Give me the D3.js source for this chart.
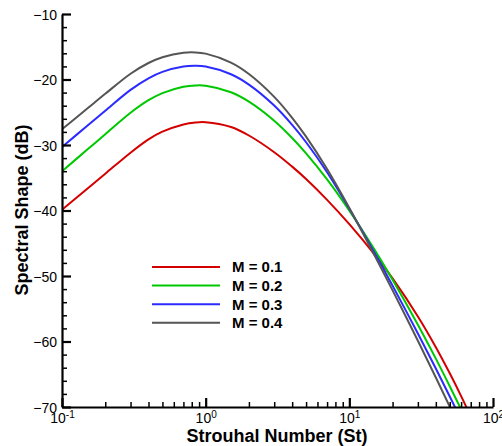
<!DOCTYPE html>
<html><head><meta charset="utf-8">
<script src="https://cdn.jsdelivr.net/npm/d3@7"></script>
<style>
html,body{margin:0;padding:0;background:#fff;}
svg{display:block;font-family:"Liberation Sans",Arial,sans-serif;}
</style>
</head><body>
<svg id="chart" width="502" height="446"></svg>
<script>
// ---- data ----
const strouhal = [0.1,0.15,0.2,0.3,0.4,0.5,0.7,0.85,1,1.5,2,3,4,5,7,10,15,20,30,40,50,60,70];
const seriesNames = ["M = 0.1","M = 0.2","M = 0.3","M = 0.4"];
const seriesColors = ["#d40000","#00c800","#2b2bff","#555555"];
const m01 = [-39.90,-36.67,-34.39,-31.17,-29.14,-27.97,-26.86,-26.56,-26.52,-27.25,-28.55,-31.10,-33.30,-35.19,-38.37,-42.09,-46.73,-50.37,-56.18,-60.87,-64.86,-68.34,-71.45];
const m02 = [-34.00,-30.70,-28.36,-25.08,-23.16,-22.08,-21.11,-20.91,-20.95,-21.95,-23.38,-26.29,-28.93,-31.28,-35.25,-40.02,-46.01,-50.58,-57.44,-62.62,-66.83,-70.36,-73.45];
const m03 = [-30.30,-27.06,-24.76,-21.58,-19.81,-18.83,-18.01,-17.90,-18.02,-19.20,-20.78,-23.98,-26.93,-29.58,-34.15,-39.73,-46.50,-51.49,-58.77,-64.13,-68.40,-71.93,-74.98];
const m04 = [-27.60,-24.44,-22.19,-19.12,-17.48,-16.60,-15.91,-15.86,-16.05,-17.42,-19.16,-22.65,-25.84,-28.72,-33.67,-39.62,-46.88,-52.19,-59.88,-65.50,-69.95,-73.63,-76.80];
const seriesValues = [m01,m02,m03,m04];
const yMajorTicks = [-70,-60,-50,-40,-30,-20,-10];
const xMajorTicks = [0.1,1,10,100];
const xTickExponents = ["-1","0","1","2"];
const xTitle = "Strouhal Number (St)";
const yTitle = "Spectral Shape (dB)";

// ---- chart ----
const svg = d3.select("#chart");
const x = d3.scaleLog().domain([0.1,100]).range([62,493]);
const y = d3.scaleLinear().domain([-70,-10]).range([407,14]);

svg.append("defs").append("clipPath").attr("id","plotclip")
  .append("rect").attr("x",62).attr("y",14).attr("width",431).attr("height",393);

// curves
const line = d3.line().x((d,i)=>x(strouhal[i])).y(d=>y(d)).curve(d3.curveCatmullRom.alpha(0.5));
const gLines = svg.append("g").attr("clip-path","url(#plotclip)");
seriesValues.forEach((vals,k)=>{
  gLines.append("path").attr("d",line(vals)).attr("fill","none")
    .attr("stroke",seriesColors[k]).attr("stroke-width",2);
});

// y axis minor
const yMinor = d3.range(-70,-9,2).filter(v=>v%10!==0);
svg.append("g").attr("transform","translate(62,0)")
  .call(d3.axisLeft(y).tickValues(yMinor).tickSize(-5).tickSizeOuter(0).tickFormat(""))
  .call(g=>g.select(".domain").remove())
  .call(g=>g.selectAll("line").attr("stroke","#000").attr("stroke-width",1.5));
// y axis major
svg.append("g").attr("transform","translate(62,0)")
  .call(d3.axisLeft(y).tickValues(yMajorTicks).tickSize(-9).tickSizeOuter(0).tickPadding(5).tickFormat(d3.format("d")))
  .call(g=>g.select(".domain").attr("stroke","#000").attr("stroke-width",2.2))
  .call(g=>g.selectAll("line").attr("stroke","#000").attr("stroke-width",2.2))
  .call(g=>g.selectAll("text").attr("font-size",14).attr("fill","#000")
     .attr("font-family","Liberation Sans, Arial, sans-serif").attr("x",-5).attr("dy","0.36em"));

// x axis minor
const xMinor = [];
[0.1,1,10].forEach(dec=>{for(let k=2;k<=9;k++) xMinor.push(dec*k);});
svg.append("g").attr("transform","translate(0,407)")
  .call(d3.axisBottom(x).tickValues(xMinor).tickSize(-5).tickSizeOuter(0).tickFormat(""))
  .call(g=>g.select(".domain").remove())
  .call(g=>g.selectAll("line").attr("stroke","#000").attr("stroke-width",1.5));
// x axis major
const xg = svg.append("g").attr("transform","translate(0,407)")
  .call(d3.axisBottom(x).tickValues(xMajorTicks).tickSize(-9).tickSizeOuter(0).tickFormat(""))
  .call(g=>g.select(".domain").attr("stroke","#000").attr("stroke-width",2.2))
  .call(g=>g.selectAll("line").attr("stroke","#000").attr("stroke-width",2.2));
xg.selectAll(".tick").each(function(d,i){
  const t = d3.select(this).append("text").attr("fill","#000").attr("text-anchor","middle")
    .attr("y",16).attr("font-size",14).attr("font-family","Liberation Sans, Arial, sans-serif");
  t.append("tspan").text("10");
  t.append("tspan").attr("font-size",10).attr("dy",-5).text(xTickExponents[i]);
});

// axis titles
svg.append("text").attr("x",277).attr("y",442).attr("text-anchor","middle")
  .attr("font-size",18).attr("font-weight","bold").text(xTitle);
svg.append("text").attr("transform","translate(28,210) rotate(-90)").attr("text-anchor","middle")
  .attr("font-size",18).attr("font-weight","bold").text(yTitle);

// legend
const lg = svg.append("g");
seriesNames.forEach((name,k)=>{
  const yy = 267 + k*18.6;
  lg.append("line").attr("x1",152).attr("x2",220).attr("y1",yy).attr("y2",yy)
    .attr("stroke",seriesColors[k]).attr("stroke-width",2);
  lg.append("text").attr("x",232).attr("y",yy).attr("dy","0.36em")
    .attr("font-size",15).attr("font-weight","bold").text(name);
});
</script>
</body></html>
